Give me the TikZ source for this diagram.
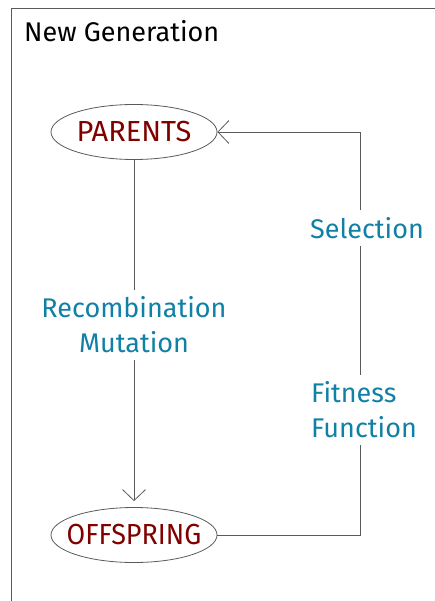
\documentclass[tikz,border=0pt]{standalone}
\usepackage{fontspec}
\setmainfont{Fira Sans}
\usetikzlibrary{shapes.geometric,arrows.meta}
\definecolor{lineg}{RGB}{90,90,90}
\definecolor{redtxt}{RGB}{128,0,0}
\definecolor{bluetxt}{RGB}{16,128,165}
\tikzset{
  conn/.style={draw=lineg, line width=0.8pt},
  tip/.style={-{Straight Barb[length=11pt,width=23pt,line width=0.8pt]}},
  stateell/.style={ellipse, draw=lineg, line width=0.8pt, minimum width=166pt, minimum height=55pt, inner sep=0pt, text=redtxt, font=\fontsize{29}{32}\selectfont},
  lbl/.style={text=bluetxt, font=\fontsize{27}{35}\selectfont, inner sep=7pt}
}
\begin{document}
\begin{tikzpicture}[x=1pt,y=-1pt]
\useasboundingbox (0,0) rectangle (435,601);
\draw[conn] (436,8.5) -- (11,8.5) -- (11,602);
\node[anchor=base west, inner sep=0pt, font=\fontsize{27}{32}\selectfont] (title) at (24,42) {New Generation};
\node[stateell] (parents) at (134,132) {\makebox[100pt][c]{PARENTS}};
\node[stateell] (offspring) at (134,535) {\makebox[100pt][c]{\scalebox{0.93}[1]{OFFSPRING}}};
\node[lbl, align=center] (recomb) at (134,325) {Recombination\\Mutation};
\node[lbl] (sel) at (367,228) {Selection};
\node[lbl, align=left, anchor=west] (fit) at (304,410) {Fitness\\Function};
\coordinate (c1) at (360,535);
\coordinate (c2) at (360,132);
\draw[conn] (parents) -- (recomb);
\draw[conn,tip,shorten >=6pt] (recomb) -- (offspring);
\draw[conn] (offspring.east) -- (c1) -- (c1 |- fit.south);
\draw[conn] (c1 |- fit.north) -- (c1 |- sel.south);
\draw[conn,tip] (c1 |- sel.north) -- (c2) -- (parents.east);
\end{tikzpicture}
\end{document}
